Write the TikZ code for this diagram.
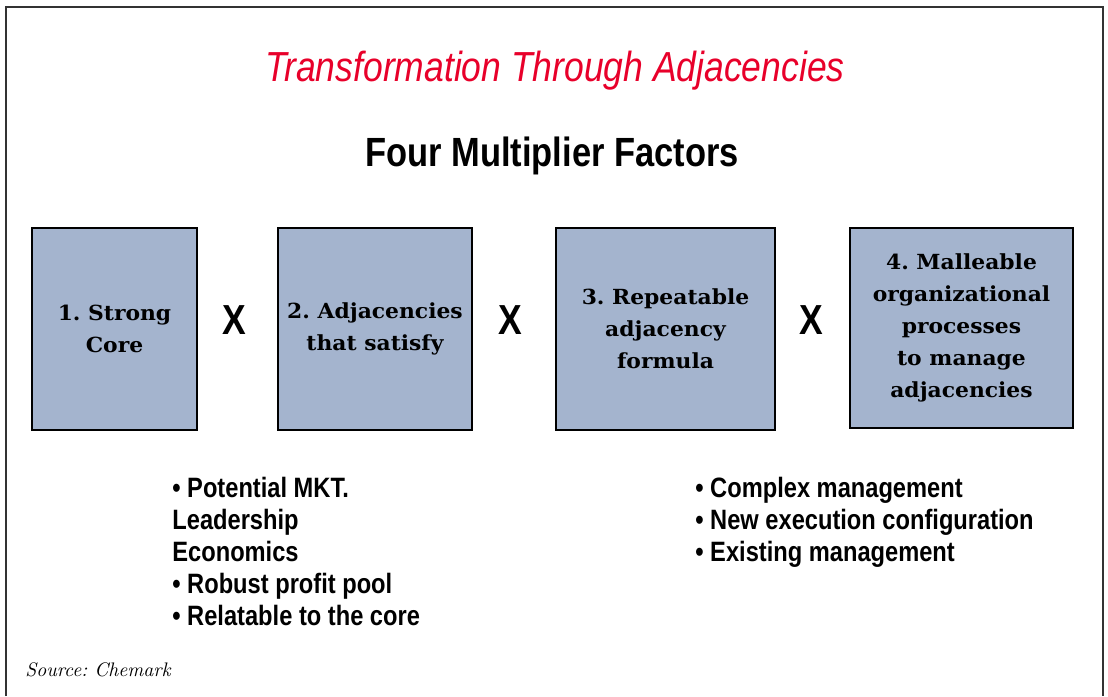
\documentclass[tikz,border=0pt]{standalone}
\usepackage{fontspec}
\newfontfamily\condsans[FakeStretch=0.845]{Liberation Sans}
\newfontfamily\boxserif[FakeStretch=1.05]{DejaVu Serif}
\definecolor{factorblue}{HTML}{A4B4CE}
\definecolor{titlered}{HTML}{E8002A}
\frenchspacing

\begin{document}
\begin{tikzpicture}[x=0.5pt, y=-0.5pt,
    factor/.style={rectangle, draw=black, thick, fill=factorblue,
        align=center, inner sep=2pt,
        font=\boxserif\bfseries\fontsize{10.4}{16}\selectfont},
    times/.style={font=\condsans\bfseries\fontsize{21}{21}\selectfont},
    bullets/.style={anchor=north west, align=left, inner sep=0pt,
        font=\condsans\bfseries\fontsize{14}{16}\selectfont}
]
    \useasboundingbox (0,0) rectangle (1108,696);
    % open frame
    \draw[line width=0.8pt, black!80] (6,696) -- (6,7) -- (1103,7) -- (1103,696);

    \node[text=titlered, font=\condsans\itshape\fontsize{21}{21}\selectfont]
        (title) at (555,71) {Transformation Through Adjacencies};
    \node[font=\condsans\bfseries\fontsize{20.4}{21}\selectfont]
        (subtitle) at (552,156) {Four Multiplier Factors};

    % the four factors
    \node[factor, minimum width=82.5pt, minimum height=101pt] (core) at (114.5,329) {1. Strong\\Core};
    \node[factor, minimum width=97pt, minimum height=101pt] (adj) at (375,329) {2. Adjacencies\\that satisfy};
    \node[factor, minimum width=109.5pt, minimum height=101pt] (formula) at (665.5,329) {3. Repeatable\\adjacency\\formula};
    \node[factor, minimum width=111.5pt, minimum height=100pt] (process) at (961.5,328) {4. Malleable\\organizational\\processes\\to manage\\adjacencies};

    \node[times] (x1) at (234,320) {X};
    \node[times] (x2) at (510,320) {X};
    \node[times] (x3) at (811,320) {X};

    \node[bullets] (left) at (172,477) {• Potential MKT.\\Leadership\\Economics\\• Robust profit pool\\• Relatable to the core};
    \node[bullets] (right) at (695,477) {• Complex management\\• New execution configuration\\• Existing management};

    \node[anchor=west, inner sep=0pt, font=\itshape\fontsize{9.8}{11}\selectfont]
        (source) at (25,670) {Source: Chemark};
\end{tikzpicture}
\end{document}
